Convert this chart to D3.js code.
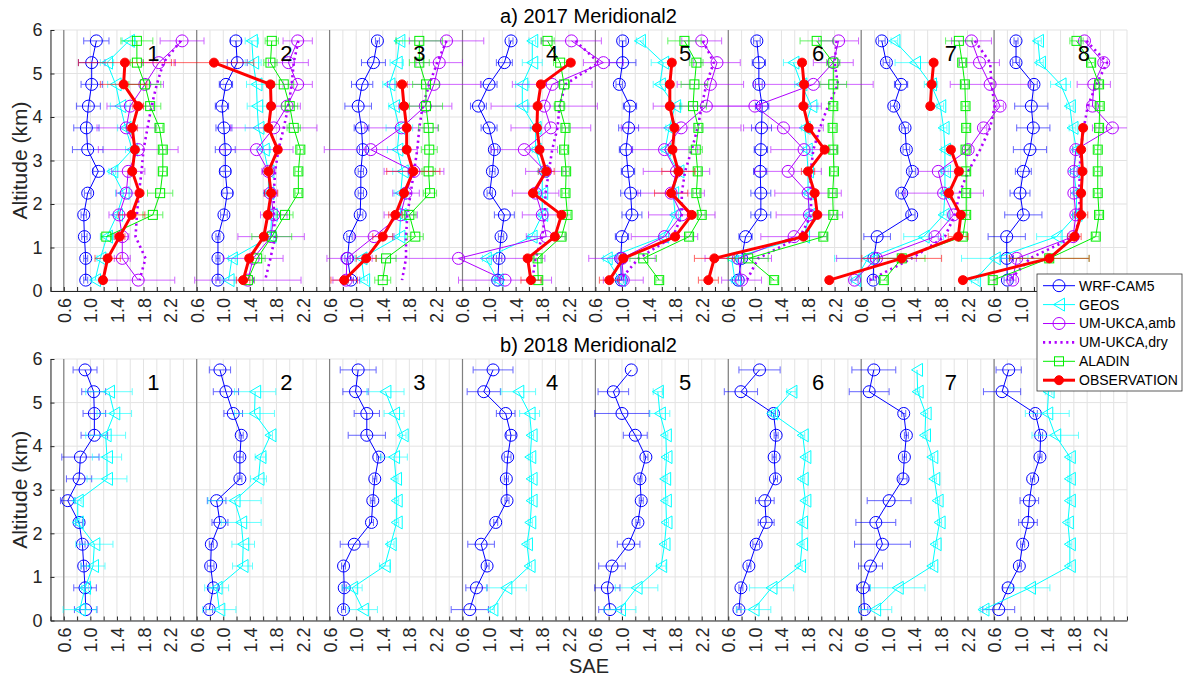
<!DOCTYPE html>
<html><head><meta charset="utf-8">
<script src="https://cdn.jsdelivr.net/npm/d3@7"></script>
<style>body{margin:0;background:#fff}svg{display:block;font-family:"Liberation Sans",Arial,Helvetica,sans-serif}</style>
</head><body><svg id="c" width="1184" height="678"></svg>
<script>
// Altitude levels (km), top to bottom
const alts = [5.75,5.25,4.75,4.25,3.75,3.25,2.75,2.25,1.75,1.25,0.75,0.25];
const panelNames = ["1","2","3","4","5","6","7","8"];
const tickLabels = [0.6,1.0,1.4,1.8,2.2];
const yTicks = [0,1,2,3,4,5,6];
const seriesNames = ["WRF-CAM5","GEOS","UM-UKCA,amb","UM-UKCA,dry","ALADIN","OBSERVATION"];

// ---- 2017 values (8 panels x 12 levels) ----
const wrf17 = [
[1.09,1.02,1.02,0.97,0.94,0.96,1.12,0.96,0.90,0.91,0.93,0.93],
[1.19,1.21,1.04,0.98,1.01,1.03,1.03,1.06,1.01,0.92,0.92,0.92],
[1.32,1.26,1.09,1.03,1.08,1.10,1.07,1.07,1.06,0.90,0.87,0.92],
[1.33,1.23,1.00,0.84,1.00,1.08,1.05,1.01,1.23,1.18,1.15,1.13],
[1.01,1.01,0.96,1.12,1.10,1.06,1.09,1.13,1.15,1.00,0.98,0.99],
[1.03,1.06,1.06,1.11,1.10,1.09,1.08,1.09,1.09,0.86,0.80,0.75],
[0.91,0.98,1.20,1.09,1.26,1.28,1.37,1.21,1.36,0.84,0.79,0.78],
[0.93,0.93,1.20,1.16,1.19,1.14,1.04,0.99,1.04,0.79,0.79,0.80]];
const geos17 = [
[1.58,1.25,1.38,1.45,1.53,1.63,1.33,1.50,1.40,1.25,1.15,1.07],
[1.43,1.45,1.50,1.51,1.53,1.61,1.68,1.68,1.73,1.71,1.13,1.08],
[1.65,1.61,1.50,1.57,1.65,1.62,1.70,1.67,1.67,1.65,1.08,1.12],
[1.65,1.65,1.50,1.50,1.70,1.70,1.80,1.80,1.80,1.64,0.95,1.13],
[1.27,1.62,1.57,1.80,1.71,1.65,1.85,1.77,1.80,1.62,0.77,0.97],
[null,1.58,1.70,1.85,1.75,1.78,1.80,1.80,1.82,1.74,0.65,0.70],
[1.10,1.41,1.65,1.79,1.84,1.86,1.86,1.86,1.84,1.54,0.70,0.51],
[1.26,1.29,1.60,1.74,1.78,1.84,1.80,1.84,1.84,1.54,0.61,0.31]];
const amb17 = [
[2.38,2.03,1.82,1.60,1.54,1.72,1.57,1.54,1.43,1.48,1.48,1.72],
[2.12,1.98,2.12,1.96,1.76,1.50,1.68,1.71,1.76,1.72,1.45,1.37],
[2.36,2.25,2.17,2.04,1.68,1.22,1.87,1.75,1.67,1.27,0.86,0.85],
[2.24,2.72,1.95,1.83,1.93,1.53,1.85,1.70,1.80,1.86,0.54,1.24],
[2.20,2.43,2.33,2.27,1.89,1.64,1.82,1.74,1.90,1.64,1.00,1.02],
[2.26,2.18,1.88,1.00,1.43,1.74,1.50,1.80,1.82,1.59,0.75,0.80],
[2.26,2.38,2.54,2.69,2.44,2.21,1.76,1.84,1.99,1.71,0.83,0.50],
[1.96,2.25,2.10,2.08,2.38,1.83,1.80,1.80,1.83,1.79,0.94,0.88]];
const dry17 = [
[2.36,2.10,2.00,1.92,1.86,1.80,1.77,1.73,1.70,1.68,1.83,1.74],
[2.13,2.06,2.03,1.98,1.91,1.83,1.78,1.76,1.76,1.78,1.71,1.63],
[2.36,2.22,2.10,2.00,1.95,1.92,1.87,1.82,1.77,1.75,1.75,1.69],
[2.30,2.65,2.15,2.06,2.03,1.95,1.90,1.85,1.84,1.80,1.70,1.65],
[2.22,2.38,2.27,2.20,2.14,2.05,1.95,1.90,1.90,1.77,1.25,0.97],
[2.23,2.20,2.25,2.10,1.98,1.88,1.84,1.84,1.85,1.68,1.05,0.88],
[2.31,2.54,2.56,2.61,2.54,2.39,2.21,2.08,2.01,1.86,1.36,0.73],
[1.99,2.30,2.14,2.01,1.95,1.90,1.89,1.88,1.89,1.81,1.14,0.84]];
const aladin17 = [
[1.70,1.70,1.82,1.90,2.04,2.09,2.09,2.05,1.94,1.24,null,null],
[1.73,1.71,1.91,2.00,2.06,2.16,2.13,2.13,1.93,1.73,1.51,1.37],
[1.95,1.95,2.05,2.05,2.09,2.10,2.09,2.11,1.80,1.89,1.45,1.40],
[1.88,2.07,2.13,2.06,2.15,2.13,2.16,2.15,2.18,2.09,1.73,1.74],
[1.94,2.12,2.09,2.07,2.15,2.11,2.14,2.12,2.20,2.01,1.32,1.56],
[1.93,2.18,2.18,2.18,2.17,2.18,2.19,2.17,2.18,2.03,0.90,1.29],
[2.07,2.12,2.16,2.17,2.18,2.17,2.18,2.18,2.18,2.13,1.21,0.94],
[1.84,2.06,2.18,2.19,2.18,2.16,2.16,2.16,2.18,2.13,1.43,0.58]];
const obs17 = [
[null,1.52,1.50,1.72,1.63,1.67,1.63,1.74,1.62,1.44,1.26,1.19],
[null,0.86,1.71,1.72,1.68,1.82,1.68,1.72,1.67,1.61,1.39,1.30],
[null,null,1.69,1.72,1.76,1.76,1.86,1.72,1.59,1.40,1.15,0.82],
[null,2.23,1.78,1.73,1.72,1.76,1.86,1.66,2.09,1.99,1.58,1.63],
[null,1.75,1.72,1.72,1.79,1.76,1.85,1.74,2.05,1.80,1.02,0.81],
[null,1.71,1.74,1.73,1.81,2.05,1.80,1.90,1.94,1.73,0.39,0.30],
[null,1.69,1.66,1.64,null,1.95,2.07,1.92,2.10,2.06,1.21,0.12],
[null,null,null,null,1.94,1.91,1.93,1.91,1.91,1.81,1.43,0.13]];

// ---- 2017 error half-widths ----
const wrf17e = [
[0.19,0.20,0.16,0.18,0.19,0.23,0.08,0.05,0.04,0.04,0.03,0.03],
[0.08,0.15,0.10,0.10,0.12,0.15,0.08,0.08,0.05,0.03,0.03,0.03],
[0.03,0.18,0.16,0.20,0.11,0.05,0.04,0.04,0.04,0.04,0.04,0.04],
[0.03,0.12,0.12,0.12,0.12,0.05,0.04,0.04,0.15,0.04,0.04,0.04],
[0.05,0.20,0.05,0.10,0.15,0.10,0.10,0.15,0.15,0.10,0.04,0.04],
[0.05,0.10,0.05,0.10,0.15,0.10,0.10,0.15,0.15,0.10,0.05,0.05],
[0.05,0.05,0.10,0.05,0.05,0.05,0.05,0.05,0.05,0.20,0.05,0.05],
[0.03,0.05,0.05,0.25,0.25,0.25,0.12,0.15,0.28,0.28,0.10,0.05]];
const geos17e = [
[0.10,0.10,0.12,0.15,0.12,0.10,0.05,0.12,0.05,0.10,0.05,0.05],
[0.10,0.12,0.15,0.15,0.20,0.10,0.05,0.05,0.05,0.05,0.05,0.10],
[0.05,0.10,0.10,0.08,0.20,0.15,0.15,0.10,0.10,0.10,0.10,0.05],
[0.05,0.15,0.10,0.10,0.08,0.05,0.05,0.05,0.05,0.05,0.05,0.05],
[0.05,0.18,0.10,0.10,0.05,0.05,0.05,0.05,0.05,0.05,0.05,0.05],
[0.00,0.15,0.10,0.10,0.05,0.05,0.05,0.05,0.05,0.05,0.05,0.05],
[0.05,0.30,0.10,0.05,0.05,0.05,0.05,0.05,0.05,0.30,0.50,0.05],
[0.05,0.05,0.15,0.05,0.05,0.05,0.05,0.05,0.05,0.30,0.50,0.05]];
const amb17e = [
[0.33,0.25,0.28,0.35,0.44,0.60,0.25,0.15,0.15,0.10,0.12,0.55],
[0.22,0.30,0.22,0.20,0.65,0.55,0.10,0.10,0.20,0.50,0.45,0.80],
[0.56,0.35,0.70,0.40,0.55,0.70,0.45,0.20,0.25,0.30,0.30,0.20],
[0.45,0.30,0.60,0.80,0.60,0.50,0.30,0.35,0.30,0.30,1.30,0.70],
[0.30,0.35,0.50,0.80,0.90,0.50,0.50,0.50,0.50,0.50,0.50,0.30],
[0.30,0.30,0.90,1.00,0.60,0.50,0.50,0.50,0.50,0.50,0.50,0.30],
[0.30,0.30,0.60,0.05,0.05,0.05,0.30,0.60,0.05,0.05,0.60,0.05],
[0.05,0.05,0.25,0.05,0.30,0.05,0.05,0.05,0.05,0.05,0.05,0.05]];
const aladin17e = [
[0.24,0.10,0.24,0.16,0.05,0.05,0.06,0.19,0.15,0.08,0,0],
[0.10,0.10,0.15,0.12,0.10,0.05,0.05,0.05,0.12,0.30,0.12,0.10],
[0.35,0.15,0.20,0.25,0.15,0.12,0.10,0.10,0.10,0.12,0.15,0.12],
[0.10,0.10,0.08,0.08,0.05,0.05,0.05,0.05,0.05,0.05,0.05,0.05],
[0.25,0.10,0.20,0.20,0.05,0.10,0.05,0.05,0.05,0.05,0.20,0.05],
[0.25,0.10,0.20,0.05,0.05,0.05,0.05,0.05,0.05,0.05,0.30,0.05],
[0.20,0.05,0.05,0.05,0.05,0.05,0.05,0.05,0.05,0.05,0.35,0.05],
[0.10,0.05,0.05,0.05,0.05,0.05,0.05,0.05,0.05,0.05,0.60,0.05]];
const obs17e = [
[0,0.70,0.35,0.08,0.08,0.05,0.05,0.05,0.20,0.08,0.19,0.05],
[0,0.60,0.05,0.05,0.05,0.05,0.05,0.10,0.05,0.05,0.05,0.10],
[0,0,0.08,0.05,0.05,0.05,0.40,0.05,0.10,0.15,0.15,0.20],
[0,0.05,0.05,0.05,0.05,0.05,0.12,0.05,0.05,0.05,0.05,0.15],
[0,0.05,0.05,0.05,0.05,0.05,0.25,0.25,0.05,0.05,0.05,0.15],
[0,0.05,0.05,0.05,0.05,0.05,0.10,0.05,0.05,0.05,0.30,0.15],
[0,0.05,0.05,0.05,0,0.05,0.05,0.05,0.05,0.15,0.60,0.05],
[0,0,0,0,0.05,0.05,0.05,0.05,0.10,0.10,0.60,0.05]];

// ---- 2018 values ----
const wrf18 = [
[0.92,1.05,1.06,1.06,0.85,0.83,0.66,0.83,0.88,0.90,0.92,0.93],
[0.95,1.04,1.15,1.27,1.25,1.25,0.90,0.95,0.82,0.81,0.85,0.79],
[1.03,0.99,1.16,1.16,1.34,1.28,1.25,1.23,0.97,0.81,0.82,0.81],
[1.06,0.92,1.25,1.33,1.28,1.26,1.27,1.10,0.88,0.97,0.81,0.71],
[1.14,0.87,1.00,1.20,1.36,1.27,1.29,1.24,1.10,0.85,0.78,0.82],
[1.07,0.79,1.28,1.32,1.29,1.31,1.15,1.17,1.02,0.91,0.79,0.76],
[0.79,0.72,1.24,1.28,1.25,1.23,1.02,0.82,0.92,0.74,0.63,0.65],
[0.82,0.72,1.22,1.30,1.29,1.18,1.13,1.11,1.03,0.98,0.81,0.67]];
const geos18 = [
[null,1.28,1.36,1.23,1.25,1.25,0.81,0.81,1.06,1.04,0.92,0.84],
[null,1.48,1.47,1.71,1.56,1.53,1.17,1.27,1.30,1.29,0.90,0.94],
[null,1.44,1.57,1.70,1.57,1.60,1.61,1.61,1.52,1.43,0.94,1.10],
[null,1.44,1.61,1.64,1.62,1.64,1.64,1.62,1.57,1.61,1.26,1.05],
[null,1.54,1.57,1.66,1.67,1.65,1.66,1.67,1.64,1.59,1.22,0.97],
[null,1.55,1.26,1.72,1.76,1.72,1.76,1.71,1.71,1.68,1.25,0.98],
[1.44,1.45,1.57,1.56,1.67,1.70,1.75,1.78,1.72,1.67,1.15,0.81],
[1.45,1.42,1.40,1.52,1.74,1.74,1.74,1.71,1.74,1.74,1.14,0.44]];
const wrf18e = [
[0.18,0.18,0.17,0.20,0.28,0.19,0.11,0.05,0.04,0.04,0.17,0.17],
[0.16,0.19,0.14,0.03,0.05,0.03,0.14,0.12,0.03,0.05,0.07,0.05],
[0.27,0.19,0.19,0.28,0.03,0.03,0.03,0.03,0.21,0.03,0.03,0.03],
[0.30,0.25,0.14,0.07,0.05,0.03,0.03,0.03,0.20,0.03,0.16,0.28],
[0.00,0.23,0.41,0.18,0.03,0.03,0.03,0.03,0.17,0.20,0.19,0.17],
[0.31,0.25,0.03,0.03,0.03,0.03,0.14,0.12,0.05,0.03,0.03,0.03],
[0.33,0.30,0.03,0.03,0.03,0.06,0.33,0.30,0.42,0.18,0.10,0.05],
[0.19,0.28,0.03,0.03,0.03,0.03,0.14,0.14,0.03,0.03,0.08,0.24]];
const geos18e = [
[0,0.35,0.26,0.30,0.22,0.30,0.05,0.03,0.28,0.18,0.05,0.25],
[0,0.31,0.30,0.03,0.08,0.12,0.40,0.30,0.17,0.15,0.18,0.25],
[0,0.28,0.15,0.05,0.20,0.03,0.03,0.03,0.05,0.08,0.15,0.22],
[0,0.26,0.15,0.03,0.03,0.03,0.03,0.03,0.03,0.03,0.30,0.03],
[0,0.07,0.15,0.03,0.03,0.03,0.03,0.03,0.03,0.07,0.32,0.24],
[0,0.07,0.03,0.03,0.03,0.03,0.03,0.03,0.03,0.03,0.33,0.26],
[0,0.03,0.03,0.03,0.03,0.03,0.03,0.03,0.03,0.03,0.41,0.25],
[0,0.05,0.33,0.35,0.03,0.03,0.03,0.03,0.03,0.03,0.30,0.05]];

const C = {wrf:"#0000ff", geos:"#00ffff", um:"#b000ff", ala:"#00ee00", obs:"#ff0000"};

const svg = d3.select("#c");
const x = d3.scaleLinear().domain([0.4,16.6]).range([50.5,1127]);
const gx = (k,v) => x(v + 2*k);
const legendBox = {x:1037, y:274, w:145, h:117};
const underLegend = (px,py) => px > legendBox.x - 8 && px < legendBox.x + legendBox.w && py > legendBox.y - 4 && py < legendBox.y + legendBox.h + 20;

const styles = {
  wrf:{color:C.wrf, w:1, marker:"circle"},
  geos:{color:C.geos, w:1, marker:"tri"},
  amb:{color:C.um, w:1, marker:"circle"},
  dry:{color:C.um, w:2.6, marker:"none", dash:"2.2 3.6"},
  ala:{color:C.ala, w:1, marker:"square"},
  obs:{color:C.obs, w:3, marker:"dot"}
};

function markerPath(sel, type, color){
  if(type==="circle") sel.append("circle").attr("r",6).attr("fill","none").attr("stroke",color).attr("stroke-width",1);
  else if(type==="tri") sel.append("path").attr("d","M-5.5,0L5.5,-6.5L5.5,6.5Z").attr("fill","none").attr("stroke",color).attr("stroke-width",1);
  else if(type==="square") sel.append("rect").attr("x",-4.5).attr("y",-4.5).attr("width",9).attr("height",9).attr("fill","none").attr("stroke",color).attr("stroke-width",1);
  else if(type==="dot") sel.append("circle").attr("r",4.5).attr("fill",color).attr("stroke",color);
}

function drawAxes(top, bottom, title, titleY, series, clipId){
  const y = d3.scaleLinear().domain([0,6]).range([bottom, top]);
  const g = svg.append("g");
  g.append("clipPath").attr("id",clipId).append("rect")
    .attr("x",x(0.4)).attr("y",top-8).attr("width",x(16.6)-x(0.4)).attr("height",bottom-top+8);
  // grid
  const gridX = d3.range(0,82).map(i => +(0.4+0.2*i).toFixed(2));
  g.append("g").selectAll("line").data(gridX).join("line")
    .attr("x1",d=>x(d)).attr("x2",d=>x(d)).attr("y1",top).attr("y2",bottom)
    .attr("stroke","#e3e3e3").attr("stroke-width",1);
  g.append("g").selectAll("line").data(yTicks).join("line")
    .attr("x1",x(0.4)).attr("x2",x(16.6)).attr("y1",d=>y(d)).attr("y2",d=>y(d))
    .attr("stroke","#e3e3e3").attr("stroke-width",1);
  // panel dividers
  g.append("g").selectAll("line").data(d3.range(8)).join("line")
    .attr("x1",k=>gx(k,0.6)).attr("x2",k=>gx(k,0.6)).attr("y1",top).attr("y2",bottom)
    .attr("stroke","#808080").attr("stroke-width",1.2);

  // x axis
  const xAxis = d3.axisBottom(x).tickValues(gridX).tickSizeInner(-4).tickSizeOuter(0)
    .tickFormat(t => {
      const k = Math.floor((t - 0.6 + 1e-6)/2);
      const loc = +(t - 2*k).toFixed(2);
      if(k<0 || k>7) return "";
      if(underLegend(x(t), bottom + 20)) return "";
      return tickLabels.some(v=>Math.abs(v-loc)<1e-6) ? loc.toFixed(1) : "";
    });
  const xa = g.append("g").attr("transform",`translate(0,${bottom})`).call(xAxis);
  xa.select(".domain").attr("stroke","#262626");
  xa.selectAll(".tick line").attr("stroke","#262626");
  xa.selectAll("text").attr("transform","rotate(-90)").attr("x",-7).attr("y",0).attr("dy","0.36em")
    .attr("text-anchor","end").attr("font-size",18).attr("fill","#262626")
    .attr("font-family","'Liberation Sans',Arial,sans-serif");
  // y axis
  const yAxis = d3.axisLeft(y).tickValues(yTicks).tickSizeInner(-4).tickSizeOuter(0).tickPadding(8).tickFormat(d3.format("d"));
  const ya = g.append("g").attr("transform",`translate(${x(0.4)},0)`).call(yAxis);
  ya.select(".domain").attr("stroke","#262626");
  ya.selectAll(".tick line").attr("stroke","#262626");
  ya.selectAll("text").attr("font-size",18).attr("fill","#262626").attr("font-family","'Liberation Sans',Arial,sans-serif");

  // axis label
  g.append("text").attr("transform",`translate(27,${(top+bottom)/2}) rotate(-90)`)
    .attr("text-anchor","middle").attr("font-size",21).attr("fill","#262626").text("Altitude (km)");
  // title
  g.append("text").attr("x",588.5).attr("y",titleY).attr("text-anchor","middle")
    .attr("font-size",20).attr("fill","#000").text(title);

  const plot = g.append("g").attr("clip-path",`url(#${clipId})`);
  series.forEach(s => {
    const st = styles[s.key];
    for(let k=0;k<8;k++){
      const vals = s.values[k];
      const errs = s.errors ? s.errors[k] : null;
      const pts = alts.map((a,i)=>({a, v:vals[i], e: errs? errs[i] : 0}));
      const pg = plot.append("g");
      if(errs){
        const eb = pts.filter(p=>p.v!==null && p.e>0);
        const eg = pg.append("g").attr("stroke",st.color).attr("stroke-width",1).attr("opacity",0.6);
        eg.selectAll("line.h").data(eb).join("line").attr("class","h")
          .attr("x1",p=>gx(k,p.v-p.e)).attr("x2",p=>gx(k,p.v+p.e)).attr("y1",p=>y(p.a)).attr("y2",p=>y(p.a));
        eg.selectAll("line.l").data(eb).join("line").attr("class","l")
          .attr("x1",p=>gx(k,p.v-p.e)).attr("x2",p=>gx(k,p.v-p.e)).attr("y1",p=>y(p.a)-3.5).attr("y2",p=>y(p.a)+3.5);
        eg.selectAll("line.r").data(eb).join("line").attr("class","r")
          .attr("x1",p=>gx(k,p.v+p.e)).attr("x2",p=>gx(k,p.v+p.e)).attr("y1",p=>y(p.a)-3.5).attr("y2",p=>y(p.a)+3.5);
      }
      const line = d3.line().defined(p=>p.v!==null).x(p=>gx(k,p.v)).y(p=>y(p.a));
      pg.append("path").attr("d",line(pts)).attr("fill","none").attr("stroke",st.color)
        .attr("stroke-width",st.w).attr("stroke-dasharray",st.dash||null).attr("stroke-linejoin","round");
      if(st.marker!=="none"){
        pg.selectAll("g.m").data(pts.filter(p=>p.v!==null)).join("g").attr("class","m")
          .attr("transform",p=>`translate(${gx(k,p.v)},${y(p.a)})`)
          .each(function(){ markerPath(d3.select(this), st.marker, st.color); });
      }
    }
  });
  // panel numbers (those hidden behind the legend in the original are not drawn)
  const nums = panelNames.map((d,k)=>({d,k})).filter(o=>!underLegend(gx(o.k,1.95), y(5.29)));
  g.append("g").selectAll("text").data(nums).join("text")
    .attr("x",o=>gx(o.k,1.95)).attr("y",y(5.29)).attr("text-anchor","middle")
    .attr("font-size",22).attr("fill","#000").text(o=>o.d);
  return y;
}

drawAxes(30, 291, "a) 2017 Meridional2", 23, [
  {key:"wrf", values:wrf17, errors:wrf17e},
  {key:"geos", values:geos17, errors:geos17e},
  {key:"amb", values:amb17, errors:amb17e},
  {key:"dry", values:dry17, errors:null},
  {key:"ala", values:aladin17, errors:aladin17e},
  {key:"obs", values:obs17, errors:obs17e}
], "clipA");

drawAxes(359, 620.5, "b) 2018 Meridional2", 352, [
  {key:"wrf", values:wrf18, errors:wrf18e},
  {key:"geos", values:geos18, errors:geos18e}
], "clipB");

// x label
svg.append("text").attr("x",589).attr("y",673).attr("text-anchor","middle")
  .attr("font-size",20).attr("fill","#262626").text("SAE");

// legend
const keys = ["wrf","geos","amb","dry","ala","obs"];
const lg = svg.append("g");
lg.append("rect").attr("x",legendBox.x).attr("y",legendBox.y).attr("width",legendBox.w).attr("height",legendBox.h)
  .attr("fill","#fff").attr("stroke","#333").attr("stroke-width",0.8);
keys.forEach((kk,i)=>{
  const st = styles[kk];
  const yy = 285.7 + 18.9*i;
  const it = lg.append("g");
  it.append("line").attr("x1",1043).attr("x2",1075).attr("y1",yy).attr("y2",yy)
    .attr("stroke",st.color).attr("stroke-width",st.w).attr("stroke-dasharray",st.dash||null);
  if(st.marker!=="none"){
    const m = it.append("g").attr("transform",`translate(1059,${yy})`);
    markerPath(m, st.marker, st.color);
  }
  it.append("text").attr("x",1079).attr("y",yy).attr("dy","0.35em").attr("font-size",14)
    .attr("fill","#000").text(seriesNames[i]);
});
</script></body></html>
